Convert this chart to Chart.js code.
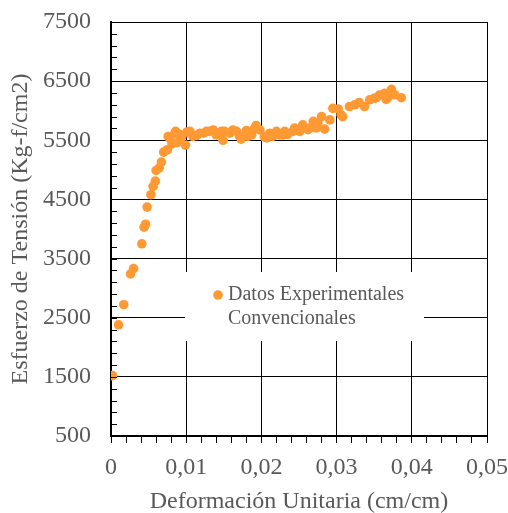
<!DOCTYPE html>
<html lang="es">
<head>
<meta charset="utf-8">
<title>Esfuerzo vs Deformación</title>
<script src="https://cdn.jsdelivr.net/npm/chart.js@4/dist/chart.umd.min.js"></script>
<style>
  html, body { margin: 0; padding: 0; background: #ffffff; }
  #wrap { width: 508px; height: 513px; position: relative; }
</style>
</head>
<body>
<div id="wrap"><canvas id="chart"></canvas></div>
<script>
// Deformación unitaria (cm/cm) de cada lectura del ensayo
const strain = [
  0.0002, 0.0010, 0.0017, 0.0026, 0.0030, 0.0041, 0.0044, 0.0046, 0.0048, 0.0053,
  0.0056, 0.0059, 0.0060, 0.0064, 0.0067, 0.0070, 0.0075, 0.0076, 0.0078, 0.0081,
  0.0085, 0.0086, 0.0088, 0.0091, 0.0094, 0.0099, 0.0101, 0.0105, 0.0109, 0.0114,
  0.0118, 0.0123, 0.0127, 0.0131, 0.0136, 0.0140, 0.0147, 0.0149, 0.0151, 0.0158,
  0.0162, 0.0167, 0.0171, 0.0173, 0.0180, 0.0182, 0.0187, 0.0191, 0.0193, 0.0198,
  0.0204, 0.0207, 0.0211, 0.0215, 0.0220, 0.0224, 0.0229, 0.0231, 0.0235, 0.0242,
  0.0244, 0.0251, 0.0255, 0.0262, 0.0264, 0.0269, 0.0273, 0.0275, 0.0280, 0.0284,
  0.0291, 0.0295, 0.0302, 0.0306, 0.0308, 0.0317, 0.0324, 0.0330, 0.0337, 0.0344,
  0.0350, 0.0353, 0.0357, 0.0361, 0.0364, 0.0366, 0.0368, 0.0373, 0.0377, 0.0386
];

// Esfuerzo de tensión (Kg-f/cm2) correspondiente a cada lectura
const stress = [
  1520, 2380, 2720, 3240, 3330, 3750, 4030, 4080, 4370, 4580,
  4720, 4810, 4990, 5030, 5130, 5300, 5340, 5565, 5540, 5440,
  5620, 5650, 5460, 5600, 5560, 5420, 5640, 5650, 5565, 5580,
  5620, 5620, 5650, 5650, 5675, 5590, 5650, 5500, 5650, 5620,
  5675, 5650, 5565, 5520, 5665, 5565, 5590, 5705, 5750, 5675,
  5560, 5540, 5620, 5565, 5650, 5590, 5590, 5650, 5600, 5650,
  5705, 5650, 5760, 5680, 5705, 5820, 5710, 5790, 5900, 5690,
  5845, 6040, 6030, 5930, 5900, 6070, 6100, 6140, 6070, 6185,
  6210, 6220, 6265, 6270, 6295, 6190, 6220, 6360, 6270, 6220
];

const seriesName = 'Datos Experimentales Convencionales';
const xTitle = 'Deformación Unitaria (cm/cm)';
const yTitle = 'Esfuerzo de Tensión (Kg-f/cm2)';

const FONT = "'Liberation Serif', 'Times New Roman', serif";
const TEXT = '#595959';
const GRID = '#000000';
const ORANGE = '#FF9933';

const points = strain.map((x, i) => ({ x: x, y: stress[i] }));

function fmtStrain(v) {
  return v === 0 ? '0' : v.toFixed(2).replace('.', ',');
}

// Short inward ticks every 200 on the stress axis
const minorTicksY = {
  id: 'minorTicksY',
  afterDraw(chart) {
    const y = chart.scales.y;
    const ctx = chart.ctx;
    const left = chart.chartArea.left;
    ctx.save();
    ctx.strokeStyle = GRID;
    ctx.lineWidth = 1;
    for (let v = y.min; v <= y.max + 1e-9; v += 200) {
      const py = Math.round(y.getPixelForValue(v)) + 0.5;
      ctx.beginPath();
      ctx.moveTo(left, py);
      ctx.lineTo(left + 6, py);
      ctx.stroke();
    }
    ctx.restore();
  }
};

// Legend drawn inside the plot on a white panel
const insetLegend = {
  id: 'insetLegend',
  afterDraw(chart) {
    const ctx = chart.ctx;
    const area = chart.chartArea;
    const ds = chart.data.datasets[0];
    const bx = area.left + 74, by = area.top + 250, bw = 239, bh = 69;
    ctx.save();
    ctx.fillStyle = '#ffffff';
    ctx.fillRect(bx, by, bw, bh);

    ctx.font = '20px ' + FONT;
    const words = ds.label.split(' ');
    const lines = [];
    let cur = '';
    words.forEach(w => {
      const t = cur ? cur + ' ' + w : w;
      if (ctx.measureText(t).width > 180 && cur) { lines.push(cur); cur = w; }
      else cur = t;
    });
    if (cur) lines.push(cur);

    const mx = bx + 33, my = by + 23;
    ctx.fillStyle = ds.backgroundColor;
    ctx.beginPath();
    ctx.arc(mx, my, ds.pointRadius, 0, Math.PI * 2);
    ctx.fill();

    ctx.fillStyle = TEXT;
    ctx.textBaseline = 'middle';
    ctx.textAlign = 'left';
    lines.forEach((ln, i) => ctx.fillText(ln, mx + 10, my + i * 24));
    ctx.restore();
  }
};

new Chart(document.getElementById('chart'), {
  type: 'scatter',
  data: {
    datasets: [{
      label: seriesName,
      data: points,
      backgroundColor: ORANGE,
      borderColor: ORANGE,
      borderWidth: 0,
      pointRadius: 4.8,
      pointHoverRadius: 4.8
    }]
  },
  options: {
    responsive: true,
    maintainAspectRatio: false,
    animation: false,
    layout: { padding: { top: 22, right: 21, left: 0, bottom: 0 } },
    plugins: {
      legend: { display: false },
      tooltip: { enabled: false }
    },
    scales: {
      x: {
        type: 'linear',
        position: 'bottom',
        min: 0,
        max: 0.05,
        afterFit(s) {
          s.height = 77;
          s.paddingLeft = 0;
          s.paddingRight = 0;
        },
        ticks: {
          stepSize: 0.002,
          autoSkip: false,
          maxRotation: 0,
          padding: 10,
          color: TEXT,
          font: { family: FONT, size: 24 },
          callback: (v, i) => (i % 5 === 0 ? fmtStrain(v) : '')
        },
        grid: {
          color: c => (c.index % 5 === 0 ? GRID : 'rgba(0,0,0,0)'),
          tickColor: GRID,
          tickLength: 7,
          lineWidth: 1
        },
        border: { display: true, color: GRID, width: 2 },
        title: {
          display: true,
          text: xTitle,
          color: TEXT,
          font: { family: FONT, size: 24 },
          padding: { top: 0, bottom: -3 }
        }
      },
      y: {
        type: 'linear',
        position: 'left',
        min: 500,
        max: 7500,
        afterFit(s) {
          s.width = 111;
          s.paddingTop = 0;
          s.paddingBottom = 0;
        },
        ticks: {
          stepSize: 1000,
          padding: 20,
          color: TEXT,
          font: { family: FONT, size: 24 },
          callback: v => String(v)
        },
        grid: {
          color: GRID,
          lineWidth: 1,
          drawTicks: false
        },
        border: { display: true, color: GRID, width: 2 },
        title: {
          display: true,
          text: yTitle,
          color: TEXT,
          font: { family: FONT, size: 24 },
          padding: { top: 6, bottom: 0 }
        }
      }
    }
  },
  plugins: [minorTicksY, insetLegend]
});
</script>
</body>
</html>
